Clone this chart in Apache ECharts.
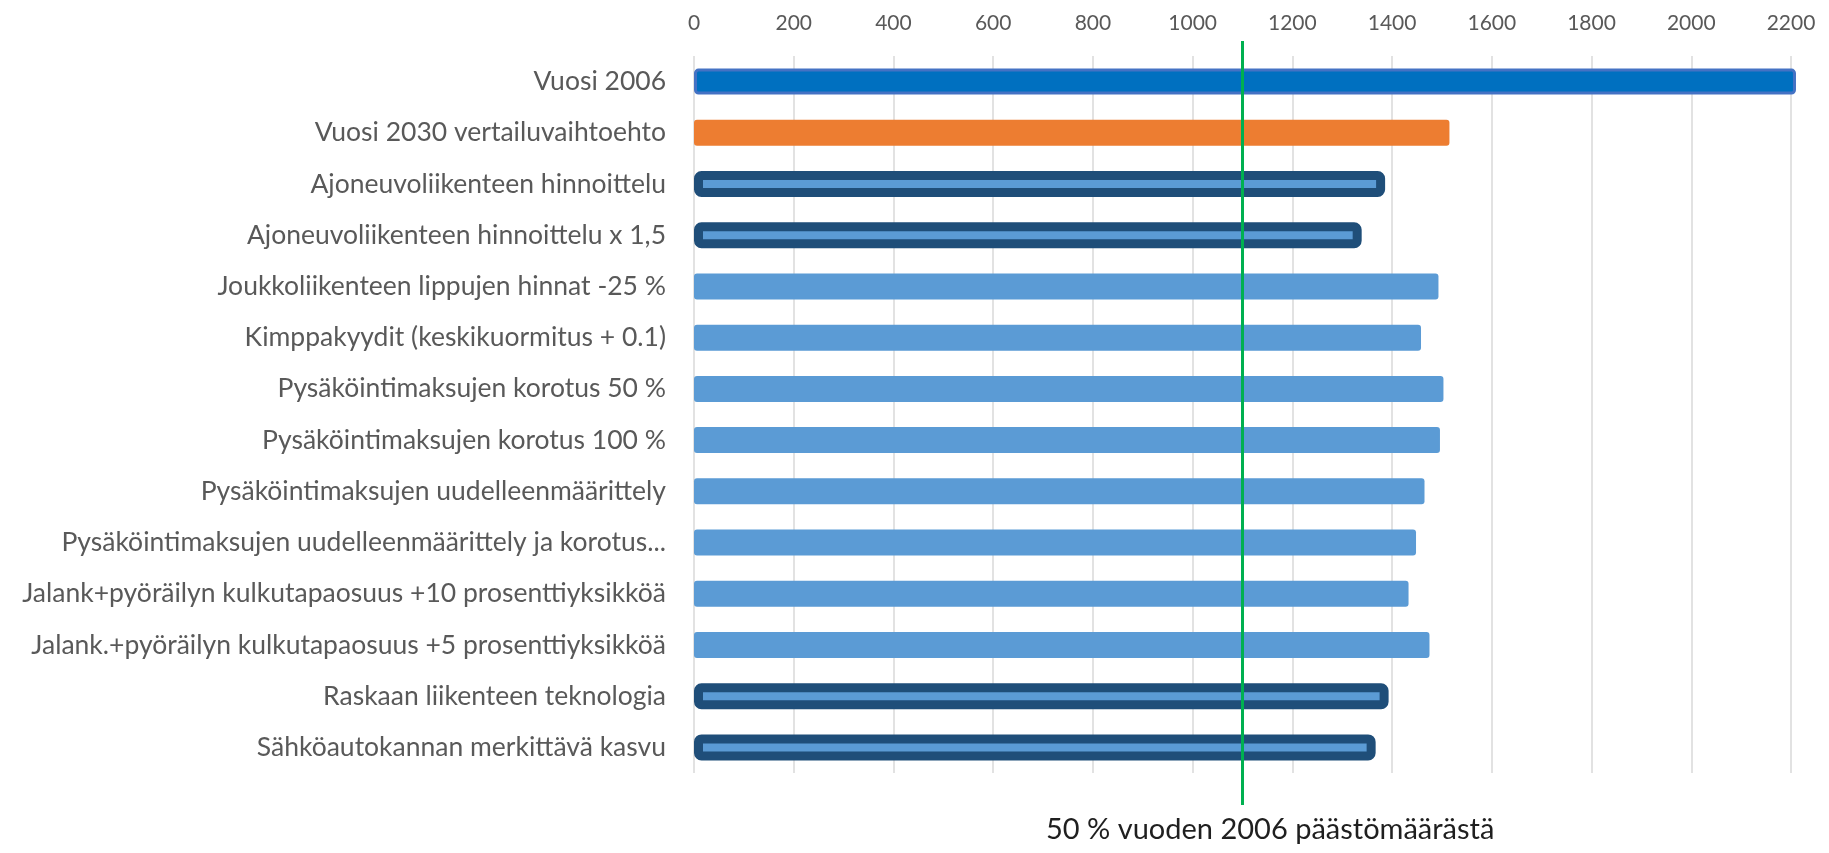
<!DOCTYPE html>
<html>
<head>
<meta charset="utf-8">
<script src="https://cdn.jsdelivr.net/npm/echarts@6/dist/echarts.min.js"></script>
<style>
  html, body { margin: 0; padding: 0; background: #fff; }
  #chart { width: 1829px; height: 853px; }
</style>
</head>
<body>
<div id="chart"></div>
<script>
const categories = [
  'Vuosi 2006',
  'Vuosi 2030 vertailuvaihtoehto',
  'Ajoneuvoliikenteen hinnoittelu',
  'Ajoneuvoliikenteen hinnoittelu x 1,5',
  'Joukkoliikenteen lippujen hinnat -25 %',
  'Kimppakyydit (keskikuormitus + 0.1)',
  'Pysäköintimaksujen korotus 50 %',
  'Pysäköintimaksujen korotus 100 %',
  'Pysäköintimaksujen uudelleenmäärittely',
  'Pysäköintimaksujen uudelleenmäärittely ja korotus...',
  'Jalank+pyöräilyn kulkutapaosuus +10 prosenttiyksikköä',
  'Jalank.+pyöräilyn kulkutapaosuus +5 prosenttiyksikköä',
  'Raskaan liikenteen teknologia',
  'Sähköautokannan merkittävä kasvu'
];

// emissions per scenario
const values = [2210, 1515, 1386, 1339, 1493, 1458, 1503, 1496, 1465, 1448, 1433, 1475, 1393, 1367];

// bar style group per category
const groups = ['base', 'ref', 'tech', 'tech', 'plain', 'plain', 'plain', 'plain', 'plain', 'plain', 'plain', 'plain', 'tech', 'tech'];

const xTicks = [0, 200, 400, 600, 800, 1000, 1200, 1400, 1600, 1800, 2000, 2200];
const halfOf2006 = 1100;
const targetLabel = '50 % vuoden 2006 päästömäärästä';

const chart = echarts.init(document.getElementById('chart'));

// ECharts keeps the bar border inside the bar, so borderWidth eats into the fill
const styleFor = {
  base: { color: '#0070c0', borderColor: '#4472c4', borderWidth: 3, borderRadius: 3 },
  ref: { color: '#ed7d31', borderRadius: 3 },
  plain: { color: '#5b9bd5', borderRadius: 3 },
  tech: { color: '#5b9bd5', borderColor: '#1f4e79', borderWidth: 9, borderRadius: 3 }
};

const barData = values.map((v, i) => ({ value: v, itemStyle: styleFor[groups[i]] }));

const option = {
  animation: false,
  textStyle: { fontFamily: 'Lato, "Open Sans", sans-serif' },
  title: {
    text: targetLabel,
    left: 1046,
    top: 815,
    padding: 0,
    textStyle: { fontSize: 29, fontWeight: 'normal', color: '#1f1f1f', fontFamily: 'Lato' }
  },
  grid: [
    { left: 694, right: 38, top: 56, bottom: 80 },
    { left: 694, right: 38, top: 41, bottom: 48 }
  ],
  xAxis: [
    {
      gridIndex: 0,
      type: 'value',
      position: 'top',
      min: xTicks[0],
      max: xTicks[xTicks.length - 1],
      interval: xTicks[1] - xTicks[0],
      axisLine: { show: false },
      axisTick: { show: false },
      axisLabel: { color: '#595959', fontSize: 21, margin: 22, formatter: (v) => String(v) },
      splitLine: { show: true, lineStyle: { color: '#d9d9d9', width: 1.5 } }
    },
    {
      gridIndex: 1,
      type: 'value',
      min: xTicks[0],
      max: xTicks[xTicks.length - 1],
      show: false
    }
  ],
  yAxis: [
    {
      gridIndex: 0,
      type: 'category',
      inverse: true,
      data: categories,
      axisLine: { show: false },
      axisTick: { show: false },
      axisLabel: { color: '#595959', fontSize: 26.5, margin: 28 }
    },
    { gridIndex: 1, type: 'value', min: 0, max: 1, show: false }
  ],
  series: [
    {
      type: 'bar',
      data: barData,
      barWidth: 26,
      clip: false
    },
    {
      type: 'line',
      xAxisIndex: 1,
      yAxisIndex: 1,
      data: [],
      z: 10,
      markLine: {
        silent: true,
        symbol: 'none',
        label: { show: false },
        lineStyle: { color: '#00b050', width: 3, type: 'solid' },
        data: [{ xAxis: halfOf2006 }]
      }
    }
  ]
};

chart.setOption(option);
</script>
</body>
</html>
